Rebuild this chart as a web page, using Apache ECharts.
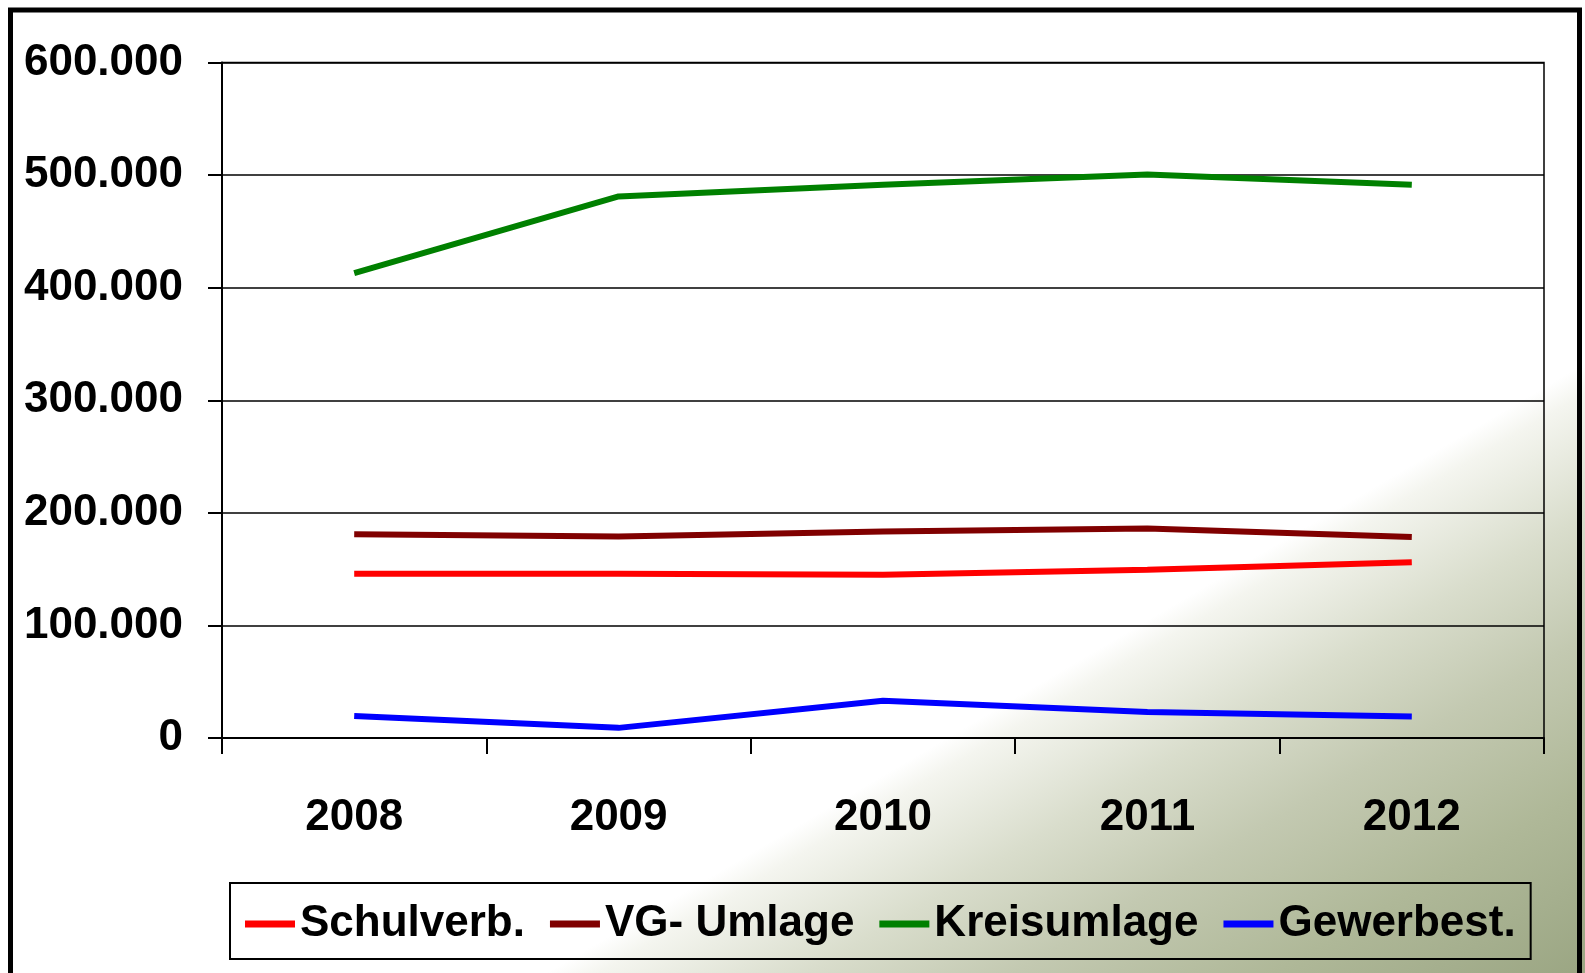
<!DOCTYPE html>
<html>
<head>
<meta charset="utf-8">
<script src="https://cdn.jsdelivr.net/npm/echarts@6/dist/echarts.min.js"></script>
<style>html,body{margin:0;padding:0;background:#fff}#c{width:1585px;height:973px}</style>
</head>
<body>
<div id="c"></div>
<script>
var years = ['2008', '2009', '2010', '2011', '2012'];
var schulverb = [146000, 146000, 145000, 149500, 156000];
var vgUmlage = [181000, 179000, 183500, 186000, 178500];
var kreisumlage = [413000, 481000, 491500, 500500, 491500];
var gewerbest = [19500, 9000, 33000, 23000, 19000];
var seriesNames = ['Schulverb.', 'VG- Umlage', 'Kreisumlage', 'Gewerbest.'];
var seriesColors = ['#ff0000', '#800000', '#008000', '#0000ff'];
var yTicks = [0, 100000, 200000, 300000, 400000, 500000, 600000];

var FONT = "'Liberation Sans Narrow', 'Arial Narrow', 'Liberation Sans', Arial, sans-serif";
function fmt(v) { return String(v).replace(/\B(?=(\d{3})+(?!\d))/g, '.'); }

var chart = echarts.init(document.getElementById('c'), null, {renderer: 'canvas'});
var dataSets = [schulverb, vgUmlage, kreisumlage, gewerbest];
var series = dataSets.map(function (d, i) {
  return {
    name: seriesNames[i], type: 'line', data: d,
    symbol: 'none', lineStyle: {color: seriesColors[i], width: 6},
    itemStyle: {color: seriesColors[i]}, animation: false
  };
});
chart.setOption({
  animation: false,
  backgroundColor: {
    type: 'linear', x: 0.832, y: 0.534, x2: 1, y2: 1,
    colorStops: [
      {offset: 0, color: '#ffffff'},
      {offset: 0.05, color: '#f4f5ef'},
      {offset: 0.25, color: '#d9ddcc'},
      {offset: 0.45, color: '#c3c9b1'},
      {offset: 0.7, color: '#afb898'},
      {offset: 0.85, color: '#a5af8e'},
      {offset: 1, color: '#9ba683'}
    ]
  },
  graphic: [{
    type: 'rect', silent: true, z: 100,
    shape: {x: 10.5, y: 10, width: 1569, height: 1010},
    style: {fill: 'none', stroke: '#000', lineWidth: 5}
  }],
  grid: {left: 222, right: 41, top: 62.5, bottom: 235, show: true, containLabel: false,
    outerBoundsMode: 'none',
    borderColor: '#000', borderWidth: 1.5, backgroundColor: 'transparent'},
  legend: {
    data: seriesNames, left: 230, top: 883,
    icon: 'rect', itemWidth: 50, itemHeight: 7, itemGap: 25,
    padding: [13, 15, 7, 15],
    borderColor: '#000', borderWidth: 2, backgroundColor: 'transparent',
    textStyle: {fontFamily: FONT, fontWeight: 'bold', fontSize: 44, color: '#000', lineHeight: 56}
  },
  xAxis: {
    type: 'category', data: years, boundaryGap: true,
    axisLine: {lineStyle: {color: '#000', width: 2}},
    axisTick: {show: true, length: 16, lineStyle: {color: '#000', width: 2}},
    axisLabel: {margin: 58, fontFamily: FONT, fontWeight: 'bold', fontSize: 44, color: '#000'},
    splitLine: {show: false}
  },
  yAxis: {
    type: 'value', min: yTicks[0], max: yTicks[yTicks.length - 1], interval: yTicks[1] - yTicks[0],
    axisLine: {show: true, lineStyle: {color: '#000', width: 2}},
    axisTick: {show: true, length: 14, lineStyle: {color: '#000', width: 2}},
    axisLabel: {margin: 39, fontFamily: FONT, fontWeight: 'bold', fontSize: 44, color: '#000',
      padding: [6, 0, 0, 0],
      formatter: function (v) { return fmt(v); }},
    splitLine: {show: true, lineStyle: {color: '#000', width: 1.5}}
  },
  series: series
});
</script>
</body>
</html>
